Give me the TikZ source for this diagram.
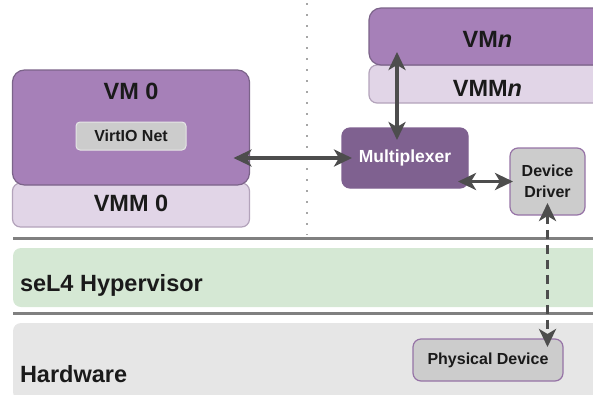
\documentclass[tikz,border=0pt]{standalone}
\usepackage{fontspec}
\setmainfont{Liberation Sans}
\usepackage{tikz}
\usetikzlibrary{arrows.meta}

\definecolor{VMFill}{HTML}{A680B8}
\definecolor{VMStroke}{HTML}{7B6389}
\definecolor{VMMFill}{HTML}{E1D5E7}
\definecolor{VMMStroke}{HTML}{B3A3BB}
\definecolor{MuxFill}{HTML}{7F6190}
\definecolor{DevFill}{HTML}{CCCCCC}
\definecolor{DevStroke}{HTML}{9673A6}
\definecolor{HypFill}{HTML}{D5E8D4}
\definecolor{HwFill}{HTML}{E6E6E6}
\definecolor{SepLine}{HTML}{808080}
\definecolor{ArrowGray}{HTML}{4D4D4D}
\definecolor{TextDark}{HTML}{1A1A1A}

%% font sizes, the picture is laid out in pixel units (1pt = 1px)
\def\TikZBigFont{\fontsize{23.5}{28}\selectfont\bfseries}
\def\TikZSmallFont{\fontsize{16}{21.5}\selectfont\bfseries}

\begin{document}
\begin{tikzpicture}[x=1pt, y=-1pt,
  every node/.style={font=\TikZSmallFont, text=TextDark, inner sep=0pt, outer sep=0pt},
  vmbox/.style={draw=VMStroke, fill=VMFill, line width=1.2pt, rounded corners=12pt, minimum width=237pt},
  vmmbox/.style={draw=VMMStroke, fill=VMMFill, line width=1.2pt, rounded corners=8pt, minimum width=237pt},
  devbox/.style={draw=DevStroke, fill=DevFill, line width=1.2pt, rounded corners=8pt, align=center},
  layerbox/.style={rounded corners=8pt, minimum width=597pt},
  title/.style={font=\TikZBigFont, anchor=base},
  layertext/.style={font=\TikZBigFont, anchor=base west},
  sepline/.style={draw=SepLine, line width=3pt},
  link/.style={draw=ArrowGray, line width=3.5pt,
    {Stealth[length=18pt,width=17pt,inset=5pt]}-{Stealth[length=18pt,width=17pt,inset=5pt]}}
]

\clip (0,0) rectangle (593,394);

%% layers
\draw[sepline] (13,238) -- (600,238);
\draw[sepline] (13,313) -- (600,313);
\node[layerbox, fill=HypFill, minimum height=59pt] (hyp) at (311.5,277.5) {};
\node[layerbox, fill=HwFill, minimum height=77pt] (hw) at (311.5,361.5) {};
\node[layertext] (hyplbl) at (20,291) {seL4 Hypervisor};
\node[layertext] (hwlbl) at (20,382) {Hardware};

%% separator between the guests
\draw[SepLine!70, line width=2pt, dash pattern=on 2pt off 9pt] (307,3) -- (307,235);

%% VM 0
\node[vmmbox, minimum height=44pt] (vmmzero) at (131,205) {};
\node[vmbox, minimum height=115pt] (vmzero) at (131,127.5) {};
\node[title] (vmzerolbl) at (131,99) {VM 0};
\node[title] (vmmzerolbl) at (131,211.5) {VMM 0};
\node[fill=DevFill, draw=HwFill, line width=1pt, rounded corners=4pt,
  minimum width=110pt, minimum height=28pt] (virtio) at (131,136) {VirtIO Net};

%% VM n
\node[vmmbox, minimum width=236pt, minimum height=38pt] (vmmn) at (487,84) {};
\node[vmbox, minimum width=236pt, minimum height=57pt] (vmn) at (487,36.5) {};
\node[title] (vmnlbl) at (487.5,47) {VM\textit{n}};
\node[title] (vmmnlbl) at (487.5,96.5) {VMM\textit{n}};

%% multiplexer and drivers
\node[fill=MuxFill, draw=MuxFill, line width=1.2pt, rounded corners=8pt,
  minimum width=126pt, minimum height=60pt, text=white, font=\fontsize{17.5}{21}\selectfont\bfseries]
  (mux) at (405,158) {Multiplexer};
\node[devbox, minimum width=75pt, minimum height=67pt] (driver) at (547.5,181.5) {Device\\Driver};
\node[devbox, minimum width=150pt, minimum height=42pt] (phys) at (488,360) {Physical Device};

%% connections
\draw[link] ([xshift=-16pt]vmzero.east |- mux.west) -- ([xshift=10pt]mux.west);
\draw[link] ([xshift=-8pt,yshift=-12pt]mux.north) -- ([xshift=-8pt,yshift=13pt]vmn.south -| mux.north);
\draw[link] ([xshift=-10pt]mux.east |- driver.west) -- ([xshift=3pt]driver.west);
\draw[link, dash pattern=on 9pt off 6pt] ([yshift=12pt]driver.south) -- ([yshift=-8pt]driver.south |- phys.north);

\end{tikzpicture}
\end{document}
